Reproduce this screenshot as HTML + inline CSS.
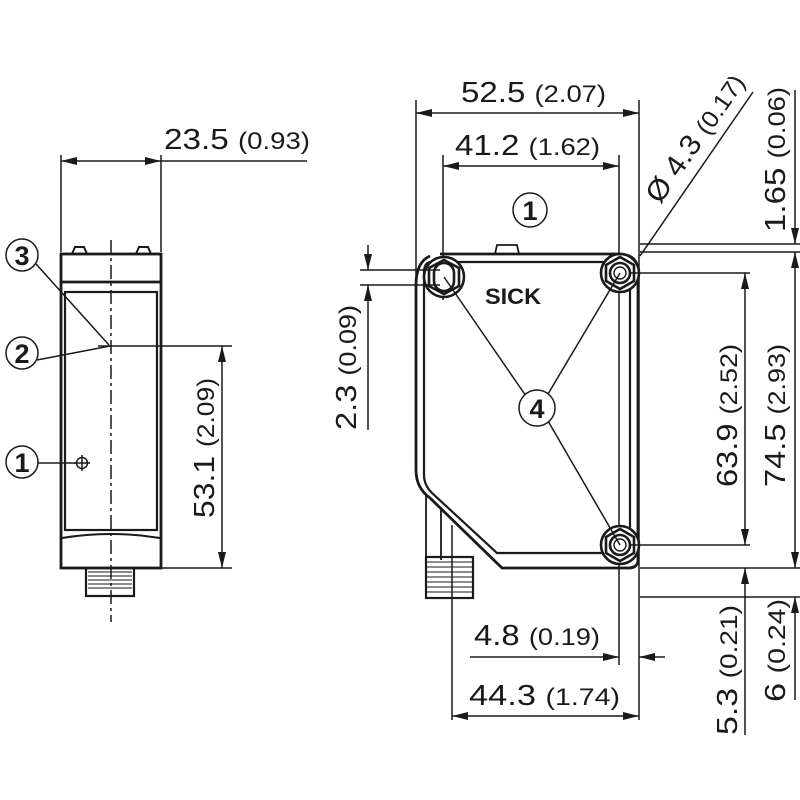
<!DOCTYPE html>
<html><head><meta charset="utf-8"><style>
html,body{margin:0;padding:0;background:#fff;}
svg{display:block}
text{font-family:"Liberation Sans",sans-serif;fill:#1a1a1a}
</style></head><body>
<svg width="800" height="800" viewBox="0 0 800 800" xmlns="http://www.w3.org/2000/svg">
<defs>
<marker id="a" viewBox="0 0 16 8" refX="16" refY="4" markerWidth="16" markerHeight="8" markerUnits="userSpaceOnUse" orient="auto-start-reverse"><path d="M0,0 L16,4 L0,8 Z" fill="#1a1a1a"/></marker>
</defs>
<g stroke="#1a1a1a" fill="none" stroke-width="1.5">
<line x1="61" y1="155" x2="61" y2="252"/>
<line x1="161" y1="155" x2="161" y2="252"/>
<line x1="61" y1="161" x2="161" y2="161" marker-start="url(#a)" marker-end="url(#a)"/>
<line x1="161" y1="161" x2="307" y2="161"/>
<line x1="111" y1="240" x2="111" y2="622" stroke-dasharray="14,4,3,4"/>
<g stroke-width="2.8">
<rect x="61" y="254" width="100" height="314"/>
<line x1="61" y1="282" x2="161" y2="282"/>
<rect x="65" y="292" width="92" height="238" stroke-width="2.2"/>
<path d="M62,538 Q111,530 160,538" stroke-width="2"/>
<path d="M72,254 L75,247 L84,247 L87,254 M136,254 L139,247 L148,247 L151,254" stroke-width="2"/>
<rect x="86" y="568" width="48" height="28" stroke-width="2.2"/>
</g>
<path d="M88,572 H132 M88,576 H132 M88,580 H132 M88,584 H132 M88,588 H132" stroke-width="1"/>
<line x1="98" y1="346" x2="232" y2="346"/>
<line x1="161" y1="568" x2="232" y2="568"/>
<line x1="222" y1="346" x2="222" y2="568" marker-start="url(#a)" marker-end="url(#a)"/>
<circle cx="22" cy="255" r="16"/><circle cx="22" cy="353" r="16"/><circle cx="22" cy="462" r="16"/>
<line x1="36" y1="264" x2="109" y2="345"/>
<line x1="37" y1="360" x2="110" y2="346"/>
<line x1="38" y1="463" x2="76" y2="463"/>
<circle cx="82" cy="463" r="5.5"/><line x1="74" y1="463" x2="90" y2="463"/><line x1="82" y1="455" x2="82" y2="471"/>
<line x1="416" y1="100" x2="416" y2="290"/>
<line x1="639" y1="100" x2="639" y2="605"/>
<line x1="416" y1="113" x2="639" y2="113" marker-start="url(#a)" marker-end="url(#a)"/>
<line x1="443" y1="155" x2="443" y2="300"/>
<line x1="619" y1="155" x2="619" y2="665"/>
<line x1="443" y1="166" x2="619" y2="166" marker-start="url(#a)" marker-end="url(#a)"/>
<circle cx="530" cy="210" r="17"/>
<g stroke-width="2.8">
<path d="M440,254 H618 Q638,254 638,272 V560 Q638,568 628,568 H502 L430,498 Q416,488 416,470 V285 Q416,262 430,256"/>
<path d="M432,262 H622 Q630,262 630,272 V548 Q630,553 620,553 H497 L432,493 Q424,485 424,475 V272 Q424,262 432,262" stroke-width="2.2"/>
<path d="M495,254 L497,245 H517 L519,254" stroke-width="1.8"/>
<path d="M426,495 V560 M441,508 V560" stroke-width="1.8"/>
<rect x="426" y="557" width="47" height="41" stroke-width="2.2"/>
</g>
<path d="M427,562 H472 M427,567 H472 M427,572 H472 M427,577 H472 M427,582 H472 M427,587 H472 M427,592 H472" stroke-width="1"/>
<g stroke-width="2.6">
<circle cx="444" cy="277" r="20" fill="#fff"/><polygon points="444,260 459,268 459,286 444,294 429,286 429,268"/>
<rect x="434" y="263" width="20" height="28" rx="10"/>
<circle cx="620" cy="273" r="19" fill="#fff"/><polygon points="620,257 634,265 634,281 620,289 606,281 606,265"/><circle cx="620" cy="273" r="10"/><circle cx="620" cy="273" r="6" stroke-width="1.4"/>
<circle cx="620" cy="545" r="19" fill="#fff"/><polygon points="620,529 634,537 634,553 620,561 606,553 606,537"/><circle cx="620" cy="545" r="10"/><circle cx="620" cy="545" r="6" stroke-width="1.4"/>
</g>
<line x1="444" y1="277" x2="526" y2="396"/>
<line x1="620" y1="273" x2="548" y2="394"/>
<line x1="620" y1="545" x2="548" y2="421"/>
<circle cx="537" cy="408" r="18" fill="#fff"/>
<line x1="640" y1="256" x2="753" y2="92"/>
<line x1="640" y1="244" x2="800" y2="244"/>
<line x1="640" y1="252" x2="800" y2="252"/>
<line x1="795" y1="90" x2="795" y2="244" marker-end="url(#a)"/>
<line x1="795" y1="252" x2="795" y2="568" marker-start="url(#a)" marker-end="url(#a)"/>
<line x1="630" y1="273" x2="750" y2="273"/>
<line x1="630" y1="545" x2="750" y2="545"/>
<line x1="745" y1="273" x2="745" y2="545" marker-start="url(#a)" marker-end="url(#a)"/>
<line x1="640" y1="568" x2="800" y2="568"/>
<line x1="640" y1="597" x2="800" y2="597"/>
<line x1="795" y1="597" x2="795" y2="700" marker-start="url(#a)"/>
<line x1="745" y1="568" x2="745" y2="735" marker-start="url(#a)"/>
<line x1="368" y1="245" x2="368" y2="270" marker-end="url(#a)"/>
<line x1="368" y1="285" x2="368" y2="430" marker-start="url(#a)"/>
<line x1="360" y1="270" x2="440" y2="270"/>
<line x1="360" y1="285" x2="440" y2="285"/>
<line x1="470" y1="657" x2="619" y2="657" marker-end="url(#a)"/>
<line x1="665" y1="657" x2="639" y2="657" marker-end="url(#a)"/>
<line x1="452" y1="525" x2="452" y2="720"/>
<line x1="452" y1="716" x2="639" y2="716" marker-start="url(#a)" marker-end="url(#a)"/>
<line x1="639" y1="605" x2="639" y2="720"/>
</g>
<g font-size="29">
<text x="164" y="149" textLength="146" lengthAdjust="spacingAndGlyphs">23.5 <tspan font-size="24">(0.93)</tspan></text>
<text x="461" y="102" textLength="145" lengthAdjust="spacingAndGlyphs">52.5 <tspan font-size="24">(2.07)</tspan></text>
<text x="455" y="155" textLength="145" lengthAdjust="spacingAndGlyphs">41.2 <tspan font-size="24">(1.62)</tspan></text>
<text x="474" y="645" textLength="126" lengthAdjust="spacingAndGlyphs">4.8 <tspan font-size="24">(0.19)</tspan></text>
<text x="469" y="705" textLength="151" lengthAdjust="spacingAndGlyphs">44.3 <tspan font-size="24">(1.74)</tspan></text>
<text transform="translate(214,518) rotate(-90)" textLength="140" lengthAdjust="spacingAndGlyphs">53.1 <tspan font-size="24">(2.09)</tspan></text>
<text transform="translate(356,430) rotate(-90)" textLength="125" lengthAdjust="spacingAndGlyphs">2.3 <tspan font-size="24">(0.09)</tspan></text>
<text transform="translate(737,487) rotate(-90)" textLength="143" lengthAdjust="spacingAndGlyphs">63.9 <tspan font-size="24">(2.52)</tspan></text>
<text transform="translate(785,487) rotate(-90)" textLength="143" lengthAdjust="spacingAndGlyphs">74.5 <tspan font-size="24">(2.93)</tspan></text>
<text transform="translate(785,232) rotate(-90)" textLength="145" lengthAdjust="spacingAndGlyphs">1.65 <tspan font-size="24">(0.06)</tspan></text>
<text transform="translate(737,735) rotate(-90)" textLength="130" lengthAdjust="spacingAndGlyphs">5.3 <tspan font-size="24">(0.21)</tspan></text>
<text transform="translate(785,702) rotate(-90)" textLength="103" lengthAdjust="spacingAndGlyphs">6 <tspan font-size="24">(0.24)</tspan></text>
<text transform="translate(660,205) rotate(-55)" textLength="150" lengthAdjust="spacingAndGlyphs">Ø 4.3 <tspan font-size="24">(0.17)</tspan></text>
</g>
<g font-size="27" font-weight="bold" text-anchor="middle">
<text x="22" y="265">3</text><text x="22" y="363">2</text><text x="22" y="472">1</text>
<text x="530" y="220">1</text><text x="537" y="418">4</text>
</g>
<text x="513" y="304" font-size="22" font-weight="bold" text-anchor="middle" textLength="56" lengthAdjust="spacingAndGlyphs">SICK</text>
</svg>
</body></html>
